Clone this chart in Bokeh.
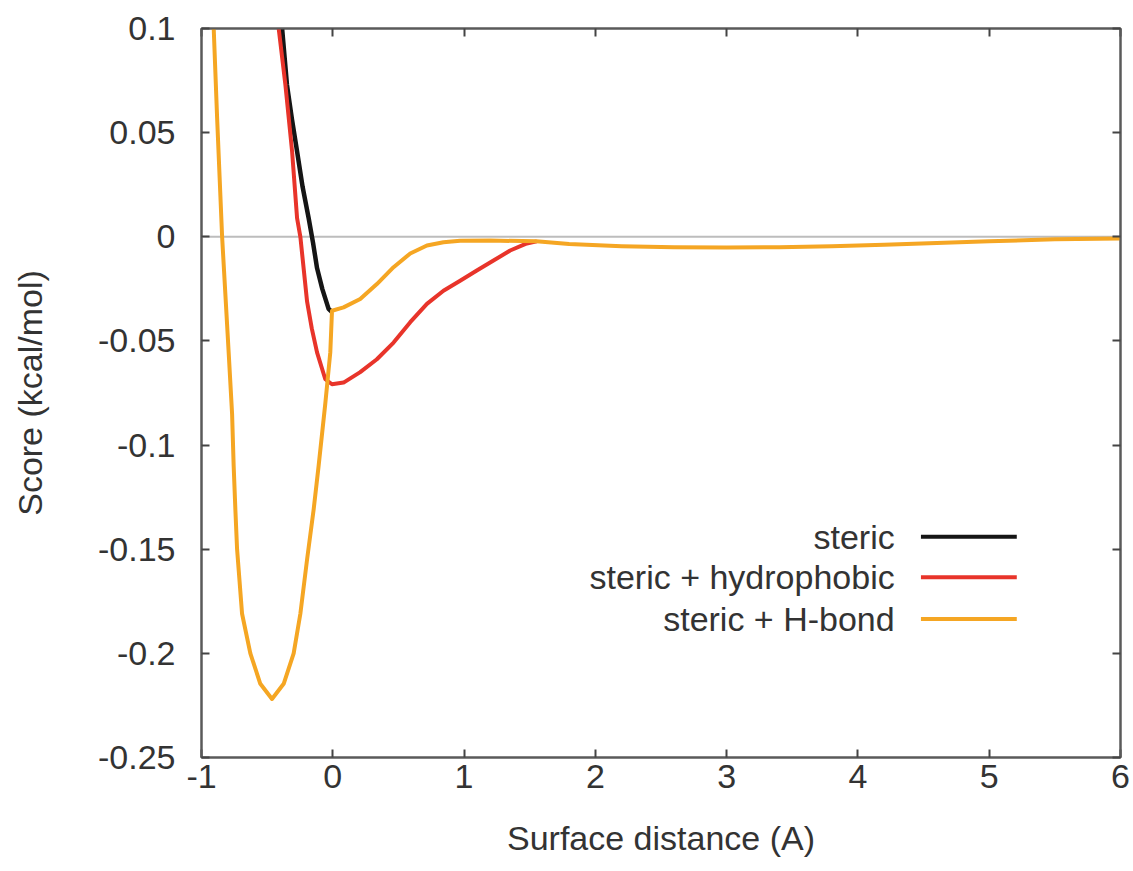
from bokeh.plotting import figure
from bokeh.models import LinearAxis, FixedTicker, Span, Label, Arrow, Range1d
from bokeh.embed import file_html
from bokeh.resources import INLINE

# ---------------- data ----------------
steric_x = [-0.386, -0.349, -0.31, -0.272, -0.23, -0.184, -0.15, -0.12, -0.08, -0.032, -0.008]
steric_y = [0.100, 0.073, 0.056, 0.041, 0.024, 0.009, -0.003, -0.015, -0.025, -0.0346, -0.036]

hydro_x = [-0.412, -0.361, -0.31, -0.272, -0.247, -0.196, -0.16, -0.12, -0.057, -0.006, 0.082,
           0.209, 0.336, 0.463, 0.59, 0.717, 0.843, 0.97, 1.097, 1.224, 1.351, 1.478, 1.554]
hydro_y = [0.100, 0.073, 0.041, 0.009, 0.000, -0.031, -0.044, -0.0555, -0.0684, -0.0708, -0.070,
           -0.065, -0.0588, -0.0508, -0.041, -0.0322, -0.0259, -0.0211, -0.0162, -0.0114, -0.0066,
           -0.0032, -0.0022]

hbond_x = [-0.907, -0.881, -0.843, -0.793, -0.767, -0.755, -0.742, -0.729, -0.691, -0.628, -0.552,
           -0.463, -0.374, -0.298, -0.247, -0.196, -0.146, -0.108, -0.057, -0.044, -0.019, -0.006,
           0.082, 0.209, 0.336, 0.463, 0.59, 0.717, 0.843, 0.97, 1.2, 1.55, 1.8, 2.2, 2.6, 3.0,
           3.4, 3.8, 4.2, 4.6, 5.0, 5.5, 6.0]
hbond_y = [0.100, 0.057, 0.000, -0.0556, -0.085, -0.110, -0.131, -0.150, -0.181, -0.200, -0.2146,
           -0.2219, -0.2146, -0.200, -0.181, -0.155, -0.131, -0.110, -0.080, -0.0717, -0.0555, -0.0355,
           -0.0339, -0.0299, -0.0227, -0.0146, -0.008, -0.0042, -0.0026, -0.0019, -0.0018, -0.0022,
           -0.0035, -0.0045, -0.005, -0.0052, -0.005, -0.0045, -0.0038, -0.003, -0.0022, -0.0012, -0.0008]

x_ticks = [-1, 0, 1, 2, 3, 4, 5, 6]
x_tick_labels = ["-1", "0", "1", "2", "3", "4", "5", "6"]
y_ticks = [0.1, 0.05, 0.0, -0.05, -0.1, -0.15, -0.2, -0.25]
y_tick_labels = ["0.1", "0.05", "0", "-0.05", "-0.1", "-0.15", "-0.2", "-0.25"]

series_labels = ["steric", "steric + hydrophobic", "steric + H-bond"]
series_colors = ["#151515", "#e8342a", "#f5a623"]

x_title = "Surface distance (A)"
y_title = "Score (kcal/mol)"

# ---------------- figure ----------------
FONT = "Liberation Sans"
TXT = "#333333"
FS = "34px"

p = figure(width=1130, height=870, x_range=Range1d(-1, 6), y_range=Range1d(-0.25, 0.1),
           output_backend="svg", toolbar_location=None,
           min_border_left=201, min_border_right=10, min_border_top=28, min_border_bottom=113)
p.grid.visible = False
p.background_fill_color = "white"
p.border_fill_color = "white"
p.outline_line_color = "#5a5a5a"
p.outline_line_width = 2

def style_axis(ax, show_labels):
    ax.axis_line_color = "#5a5a5a"
    ax.axis_line_width = 2
    ax.major_tick_line_color = "#444444"
    ax.major_tick_line_width = 2
    ax.major_tick_in = 8
    ax.major_tick_out = 0
    ax.minor_tick_line_color = None
    if show_labels:
        ax.major_label_text_font = FONT
        ax.major_label_text_font_size = FS
        ax.major_label_text_color = TXT
        ax.axis_label_text_font = FONT
        ax.axis_label_text_font_size = FS
        ax.axis_label_text_color = TXT
        ax.axis_label_text_font_style = "normal"
    else:
        ax.major_label_text_color = None
        ax.major_label_text_font_size = "1px"
        ax.major_label_standoff = 0
        ax.axis_label = None

xax = p.xaxis[0]
xax.ticker = FixedTicker(ticks=x_ticks)
xax.major_label_overrides = dict(zip(x_ticks, x_tick_labels))
xax.axis_label = x_title
style_axis(xax, True)
xax.major_label_standoff = 7
xax.axis_label_standoff = 28

yax = p.yaxis[0]
yax.ticker = FixedTicker(ticks=y_ticks)
yax.major_label_overrides = dict(zip(y_ticks, y_tick_labels))
yax.axis_label = y_title
style_axis(yax, True)
yax.major_label_standoff = 26
yax.axis_label_standoff = 46

top = LinearAxis(ticker=FixedTicker(ticks=x_ticks))
top.major_label_overrides = {t: "" for t in x_ticks}
style_axis(top, False)
p.add_layout(top, "above")
right = LinearAxis(ticker=FixedTicker(ticks=y_ticks))
right.major_label_overrides = {t: "" for t in y_ticks}
style_axis(right, False)
p.add_layout(right, "right")

# zero line
p.add_layout(Span(location=0, dimension="width", line_color="#bdbdbd", line_width=2, level="underlay"))

# curves
p.line(steric_x, steric_y, line_color=series_colors[0], line_width=4.5, line_join="round")
p.line(hydro_x, hydro_y, line_color=series_colors[1], line_width=4, line_join="round")
p.line(hbond_x, hbond_y, line_color=series_colors[2], line_width=4, line_join="round")

# legend (gnuplot style: label on the left, sample on the right)
leg_text_x = 4.28
leg_sample = (4.48, 5.21)
leg_rows = [-0.144, -0.1635, -0.1835]
for lab, col, yy in zip(series_labels, series_colors, leg_rows):
    p.add_layout(Label(x=leg_text_x, y=yy, text=lab, text_align="right", text_baseline="middle",
                       text_font=FONT, text_font_size=FS, text_color=TXT))
    p.add_layout(Arrow(end=None, x_start=leg_sample[0], y_start=yy, x_end=leg_sample[1], y_end=yy,
                       line_color=col, line_width=4))

open("out.html", "w").write(file_html(p, INLINE))
